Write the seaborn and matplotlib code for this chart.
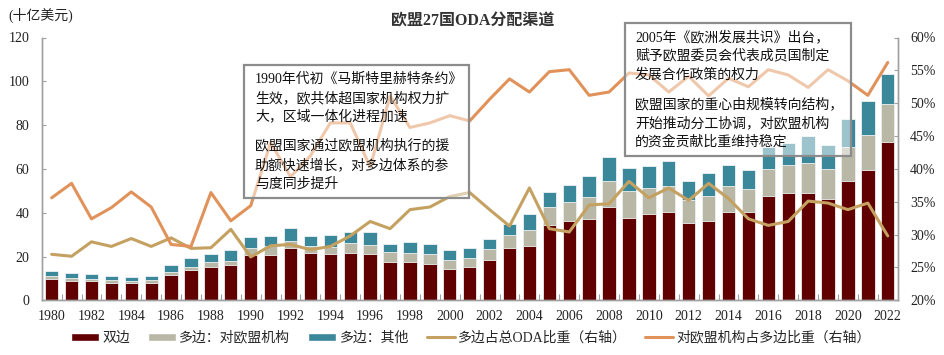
import numpy as np
import pandas as pd
import matplotlib
matplotlib.use('Agg')
import matplotlib.pyplot as plt
from matplotlib.patches import Patch, Rectangle
from matplotlib.lines import Line2D
import seaborn as sns

years = [str(y) for y in range(1980, 2023)]

# 十亿美元
bilateral = [9.7, 9.0, 8.6, 8.1, 7.7, 8.1, 11.5, 13.8, 15.0, 15.9,
             20.9, 20.8, 23.7, 21.4, 21.2, 21.7, 21.2, 17.7, 17.3, 16.8,
             14.5, 15.3, 18.6, 24.0, 24.6, 34.2, 36.3, 36.9, 42.7, 37.5,
             39.5, 40.1, 35.5, 36.2, 40.1, 40.5, 47.7, 48.9, 48.9, 46.3,
             54.7, 59.6, 72.2]
multi_eu = [1.3, 1.4, 1.2, 1.1, 1.1, 1.3, 1.5, 1.5, 2.4, 2.1,
            2.9, 4.1, 3.5, 3.2, 3.1, 4.6, 4.1, 4.3, 4.4, 4.4,
            4.1, 4.1, 4.9, 5.8, 7.6, 8.4, 8.8, 10.4, 12.0, 12.6,
            11.9, 12.2, 10.4, 11.2, 11.9, 10.3, 12.1, 12.8, 13.9, 13.7,
            15.1, 16.0, 17.5]
multi_other = [2.5, 2.0, 2.3, 2.0, 1.9, 1.8, 3.2, 4.0, 3.7, 5.0,
               5.1, 4.4, 5.8, 4.9, 5.5, 5.0, 6.0, 3.8, 4.9, 4.6,
               4.5, 4.4, 4.6, 5.1, 7.2, 6.8, 7.5, 9.5, 10.9, 10.4,
               10.0, 11.1, 8.8, 10.7, 9.9, 8.8, 10.4, 10.1, 12.3, 10.8,
               13.1, 15.6, 13.7]

# 右轴（%）
multi_share = [27.0, 26.7, 28.9, 28.2, 29.4, 28.2, 29.5, 27.9, 28.0, 30.8,
               26.6, 28.3, 28.5, 27.7, 28.2, 29.8, 32.0, 30.9, 33.8, 34.2,
               35.8, 36.4, 33.8, 31.3, 37.1, 30.9, 30.4, 34.5, 34.7, 38.1,
               35.6, 37.1, 35.2, 37.8, 35.5, 32.4, 31.4, 32.0, 35.1, 34.8,
               33.8, 34.8, 29.8]
eu_share = [35.6, 37.8, 32.4, 34.1, 36.5, 34.2, 28.5, 28.2, 36.4, 32.1,
            34.4, 44.0, 38.8, 42.0, 47.0, 47.0, 40.3, 51.1, 46.3, 47.0,
            48.1, 47.3, 50.6, 53.7, 51.7, 54.8, 55.1, 51.2, 51.7, 54.6,
            54.3, 51.7, 54.1, 51.1, 53.8, 52.5, 55.1, 54.3, 52.4, 55.1,
            53.4, 51.2, 56.2]

box1 = [["1990年代初《马斯特里赫特条约》", "生效，欧共体超国家机构权力扩", "大，区域一体化进程加速"],
        ["欧盟国家通过欧盟机构执行的援", "助额快速增长，对多边体系的参", "与度同步提升"]]
box2 = [["2005年《欧洲发展共识》出台，", "赋予欧盟委员会代表成员国制定", "发展合作政策的权力"],
        ["欧盟国家的重心由规模转向结构，", "开始推动分工协调，对欧盟机构", "的资金贡献比重维持稳定"]]

c_bil = '#600000'
c_eu = '#b9b7a6'
c_oth = '#3b889b'
c_l1 = '#c4a160'
c_l2 = '#e0925a'

sns.set_theme(style='white')
plt.rcParams['font.family'] = ['Liberation Serif', 'Noto Sans CJK SC']
plt.rcParams['axes.unicode_minus'] = False

W, H = 945, 355
fig = plt.figure(figsize=(W / 100, H / 100), dpi=100)
ax = fig.add_axes([41.7 / W, 1 - 300.3 / H, (897.7 - 41.7) / W, (300.3 - 37.5) / H])

df = pd.DataFrame({'year': years, 'bil': bilateral, 'eu': multi_eu, 'oth': multi_other})
df['top_eu'] = df['bil'] + df['eu']
df['total'] = df['top_eu'] + df['oth']

for col, c in [('total', c_oth), ('top_eu', c_eu), ('bil', c_bil)]:
    sns.barplot(data=df, x='year', y=col, color=c, saturation=1, width=0.67,
                edgecolor='#eef2f3', linewidth=0.6, ax=ax)

ax2 = ax.twinx()
pos = np.arange(len(years))
sns.lineplot(x=pos, y=multi_share, color=c_l1, linewidth=2.2, ax=ax2)
sns.lineplot(x=pos, y=eu_share, color=c_l2, linewidth=2.2, ax=ax2)

ax.set_xlim(-0.5, len(years) - 0.5)
ax.set_ylim(0, 120)
ax.set_yticks(range(0, 121, 20))
ax2.set_ylim(20, 60)
ax2.set_yticks(range(20, 61, 5))
ax2.set_yticklabels([f'{v}%' for v in range(20, 61, 5)])

ax.set_xticks(pos[::2])
ax.set_xticklabels(years[::2])
ax.set_xticks(pos[:-1] + 0.5, minor=True)
ax.set_xlabel('')
ax.set_ylabel('')
ax2.set_ylabel('')

for a in (ax, ax2):
    for s in a.spines.values():
        s.set_color('#a0a0a0')
        s.set_linewidth(1.0)
    a.spines['top'].set_visible(False)
    a.grid(False)

ax.tick_params(axis='x', which='major', length=0, pad=7, labelsize=10, colors='#222222')
ax.tick_params(axis='x', which='minor', direction='in', length=4, width=0.8, color='#a0a0a0', bottom=True)
ax.tick_params(axis='y', direction='in', length=3, width=0.8, color='#a0a0a0', pad=9, labelsize=10, labelcolor='#222222', left=True)
ax2.tick_params(axis='y', direction='in', length=3, width=0.8, color='#a0a0a0', pad=9, labelsize=10, labelcolor='#222222', right=True)

fig.text(8 / W, 1 - 15 / H, '(十亿美元)', fontsize=10, va='center', ha='left', color='#222222')
fig.text(473 / W, 1 - 21 / H, '欧盟27国ODA分配渠道', fontsize=11.5, fontweight='bold',
         va='center', ha='center', color='#333333')


def draw_box(x0, y0, x1, y1, paras, tx, ty):
    fig.add_artist(Rectangle((x0 / W, 1 - y1 / H), (x1 - x0) / W, (y1 - y0) / H,
                             transform=fig.transFigure, facecolor=(1, 1, 1, 0.5),
                             edgecolor='#8c8c8c', linewidth=1.6, zorder=5))
    y = ty
    for para in paras:
        for line in para:
            fig.text(tx / W, 1 - y / H, line, fontsize=10, va='center', ha='left',
                     color='#111111', zorder=6)
            y += 19
        y += 10


draw_box(244, 65, 469, 198, box1, 255, 79)
draw_box(625, 23, 851, 156, box2, 635, 37)

handles = [Patch(facecolor=c_bil), Patch(facecolor=c_eu), Patch(facecolor=c_oth),
           Line2D([], [], color=c_l1, linewidth=2.2), Line2D([], [], color=c_l2, linewidth=2.2)]
labels = ['双边', '多边：对欧盟机构', '多边：其他', '多边占总ODA比重（右轴）', '对欧盟机构占多边比重（右轴）']
fig.legend(handles, labels, loc='center', bbox_to_anchor=(471 / W, 1 - 338 / H), ncol=5,
           frameon=False, fontsize=10, handlelength=2.0, handleheight=0.45,
           handletextpad=0.25, columnspacing=1.3)

fig.savefig('out.png', dpi=100)
